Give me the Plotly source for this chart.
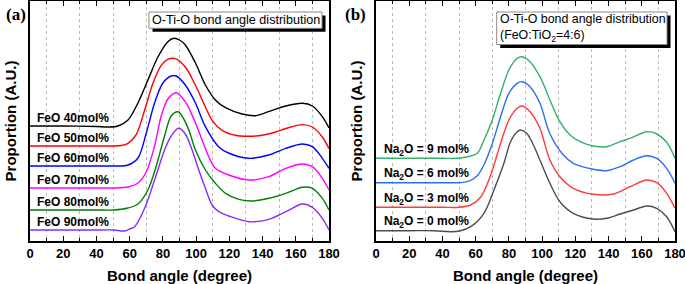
import plotly.graph_objects as go
from plotly.subplots import make_subplots

# ---------------- data (arbitrary units) ----------------
# Panel (a): O-Ti-O bond angle distribution for FeO contents
feo40_ang = [0, 20, 40, 47, 53, 59, 65, 71, 77, 83, 86.5, 90, 93.5, 99.6, 105.6, 111.6, 117.7, 127.7, 135.8, 143.6, 154, 164, 170, 176, 180]
feo40_val = [0, 0, -0.5, -1, 0, 6, 23, 46, 69, 84.3, 87.7, 86, 81, 63, 41, 26, 18.3, 12, 10.3, 14.3, 20, 22.7, 20, 9.3, -2]

feo50_ang = [0, 20, 40, 50, 55, 59, 64, 69, 74, 79, 83, 87.5, 93.5, 99.6, 105.6, 109.6, 115.7, 123.7, 131.5, 139.8, 147.8, 154, 164, 170, 176, 180]
feo50_val = [0, 0, 0, 0, 0.5, 2.7, 11.7, 35.7, 62.7, 80.7, 86.7, 87.4, 79, 60.7, 39, 25.7, 15.7, 10.7, 9.7, 10.7, 14, 17.5, 21.4, 19, 9, -2.6]

feo60_ang = [0, 20, 40, 50, 59, 65, 70, 75, 80, 85, 88, 93.5, 99.6, 105.6, 113.5, 119.5, 131.5, 143.6, 154, 164, 170, 176, 180]
feo60_val = [0, 0, 0, 0, 1, 8, 33, 63, 83, 90, 90, 81, 63, 39.3, 19.3, 13, 7.7, 11, 17.7, 22, 19.3, 7.7, -2.3]

feo70_ang = [0, 20, 40, 50, 59, 65, 70, 75, 79, 83, 88, 93.5, 99.6, 103.6, 107.6, 111.6, 119.7, 131.8, 143.8, 154, 164, 170, 176, 180]
feo70_val = [0, 0, 0, 0, 1, 5, 16, 42, 72, 89, 95.3, 86.3, 65, 48, 31.3, 19.7, 13, 8, 11.3, 19.7, 24, 21.3, 9.7, -2]

feo80_ang = [0, 20, 40, 50, 59, 65, 71, 76, 81, 85, 89, 91.5, 95.6, 99.6, 105.6, 111.6, 117.7, 125.7, 133.8, 143.8, 154, 164, 170, 176, 180]
feo80_val = [0, 0, 0, 0, 2, 6, 20, 44, 74, 94, 98.3, 94, 80, 60, 40, 26.7, 16.7, 10.7, 9, 11.7, 16.7, 22.7, 21.7, 11.7, 0]

feo90_ang = [0, 20, 40, 50, 57, 60, 63, 69, 75, 81, 85, 89.5, 93.5, 97.6, 101.6, 105.6, 109.6, 113.6, 119.7, 131.8, 143.8, 154, 164, 170, 176, 180]
feo90_val = [0, 0, 0, 0, -1, 1, 3.3, 21.7, 50, 80, 94, 101.7, 96, 80, 60, 41.7, 25, 18.3, 14, 8.3, 10.7, 18.3, 26, 22.7, 11.7, 0]

left_labels = ["FeO 40mol%", "FeO 50mol%", "FeO 60mol%", "FeO 70mol%", "FeO 80mol%", "FeO 90mol%"]
left_offsets = [115, 95, 75, 53, 31, 11]
left_colors = ["#000000", "#ff0000", "#0000ff", "#ff00ff", "#008000", "#8b2bff"]

# Panel (b): FeO:TiO2 = 4:6 with Na2O additions
na9_ang = [0, 20, 40, 49, 55, 61, 65, 70, 75, 80, 85, 87.7, 92.7, 98.7, 104.7, 110.7, 116.8, 122.9, 130.9, 138.9, 147, 153, 163, 169, 175, 180]
na9_val = [0, 0, 0, 0, 1.6, 5, 18.3, 38.3, 65, 88.3, 100, 101.6, 96.6, 81.6, 58.3, 36.6, 23.3, 16.6, 12.3, 11.6, 16.6, 20, 26.6, 24.3, 16, 0]

na6_ang = [0, 20, 40, 50, 55, 61, 65, 70, 75, 80, 85, 88, 92.7, 98.7, 104.7, 112.8, 118.8, 130.9, 138.9, 147, 155, 163, 169, 175, 180]
na6_val = [0, 0, 0, 0, 1, 7, 18, 39, 66, 89.4, 99.4, 101, 96, 79.4, 49, 27.7, 19.4, 13.4, 12, 16, 22.7, 27, 24.4, 14.4, -0.6]

na3_ang = [0, 20, 40, 50, 57, 63, 69, 73, 75, 80, 85, 88, 92.7, 98.7, 101, 104.7, 110.7, 118.8, 130.9, 143, 153, 163, 169, 175, 180]
na3_val = [0, 0, 0, 0, 2.3, 10, 32, 53, 64, 87.3, 99, 101.3, 95.6, 79, 67, 47.3, 30.6, 19, 13, 13.3, 20.6, 27.3, 24.6, 14, -1]

na0_ang = [0, 20, 35, 45, 51, 57, 65, 71, 77, 81, 85, 87, 90.7, 94.7, 98.7, 104.7, 110.7, 118.8, 130.9, 138.9, 147, 155, 163, 169, 175, 180]
na0_val = [0, 0, 0, -1, 0, 4, 17.4, 40.7, 67.4, 89, 99, 100.7, 97.4, 86, 70.7, 47.4, 29, 17.4, 11.7, 12.4, 16.7, 20.7, 24.7, 22.4, 14, -1]

right_labels = ["Na<sub>2</sub>O = 9 mol%", "Na<sub>2</sub>O = 6 mol%", "Na<sub>2</sub>O = 3 mol%", "Na<sub>2</sub>O = 0 mol%"]
right_offsets = [82.7, 58.3, 33.7, 10.3]
right_colors = ["#33b06a", "#2a6ff0", "#ff3a3a", "#4d4d4d"]

x_ticks = [0, 20, 40, 60, 80, 100, 120, 140, 160, 180]

left_series = [(feo40_ang, feo40_val), (feo50_ang, feo50_val), (feo60_ang, feo60_val),
               (feo70_ang, feo70_val), (feo80_ang, feo80_val), (feo90_ang, feo90_val)]
right_series = [(na9_ang, na9_val), (na6_ang, na6_val), (na3_ang, na3_val), (na0_ang, na0_val)]

# ---------------- layout geometry ----------------
W, H = 685, 284
ML, MR, MT, MB = 30, 10, 1, 43
PW, PH = W - ML - MR, H - MT - MB


def px(xp):
    return (xp - ML) / PW


def py(yp):
    return (H - MB - yp) / PH


FONT = "Liberation Sans"

fig = make_subplots(rows=1, cols=2, horizontal_spacing=0)

for (ang, val), off, col in zip(left_series, left_offsets, left_colors):
    fig.add_trace(go.Scatter(x=ang, y=[v + off for v in val], mode="lines",
                             line=dict(color=col, width=1.4, shape="spline", smoothing=0.9),
                             showlegend=False, hoverinfo="skip"), row=1, col=1)

for (ang, val), off, col in zip(right_series, right_offsets, right_colors):
    fig.add_trace(go.Scatter(x=ang, y=[v + off for v in val], mode="lines",
                             line=dict(color=col, width=1.4, shape="spline", smoothing=0.9),
                             showlegend=False, hoverinfo="skip"), row=1, col=2)

xaxis_style = dict(
    range=[0, 180], tickvals=x_ticks, ticks="inside", ticklen=5, tickwidth=1.2,
    tickcolor="black", showline=True, linecolor="black", linewidth=1.6, mirror="ticks",
    showgrid=False, zeroline=False, ticklabeloverflow="allow",
    tickfont=dict(family=FONT, size=13, color="black", weight="bold"),
    minor=dict(dtick=20, tick0=10, ticks="inside", ticklen=3, tickcolor="black",
               showgrid=True, gridcolor="#bdbdbd", griddash="dot", gridwidth=1),
    title=dict(text="Bond angle (degree)", font=dict(family=FONT, size=15, color="black", weight="bold"),
               standoff=10),
    automargin=False,
)
yaxis_style = dict(
    range=[0, PH], showticklabels=False, ticks="", showgrid=False, zeroline=False,
    showline=True, linecolor="black", linewidth=1.6, mirror=True,
    title=dict(text="Proportion (A.U.)", font=dict(family=FONT, size=15, color="black", weight="bold"),
               standoff=8),
    automargin=False,
)
fig.update_xaxes(**xaxis_style)
fig.update_yaxes(**yaxis_style)
fig.update_layout(
    xaxis=dict(domain=[0, px(329)]),
    xaxis2=dict(domain=[px(376), 1]),
)

# curve labels
for lab, off in zip(left_labels, left_offsets):
    fig.add_annotation(x=3, y=off + 8.5, xref="x", yref="y", text=lab, showarrow=False,
                       xanchor="left", yanchor="middle",
                       font=dict(family=FONT, size=12, color="black", weight="bold"))
for lab, off in zip(right_labels, right_offsets):
    fig.add_annotation(x=3.6, y=off + 8.5, xref="x2", yref="y2", text=lab, showarrow=False,
                       xanchor="left", yanchor="middle",
                       font=dict(family=FONT, size=12, color="black", weight="bold"))

# info boxes with drop shadows
shapes = []
for (x0, y0, x1, y1) in [(149, 12, 322, 28.3), (496.7, 12, 667, 44.5)]:
    shapes.append(dict(type="rect", xref="paper", yref="paper",
                       x0=px(x0 + 3.5), x1=px(x1 + 3.5), y0=py(y1 + 3.5), y1=py(y0 + 3.5),
                       fillcolor="black", line=dict(width=0), layer="above"))
    shapes.append(dict(type="rect", xref="paper", yref="paper",
                       x0=px(x0), x1=px(x1), y0=py(y1), y1=py(y0),
                       fillcolor="white", line=dict(color="#8a8a8a", width=1), layer="above"))
fig.update_layout(shapes=shapes)

fig.add_annotation(x=px(235.5), y=py(20.2), xref="paper", yref="paper",
                   text="O-Ti-O bond angle distribution", showarrow=False,
                   xanchor="center", yanchor="middle",
                   font=dict(family=FONT, size=12.6, color="black"))
fig.add_annotation(x=px(497.8), y=py(28.2), xref="paper", yref="paper",
                   text="O-Ti-O bond angle distribution<br>(FeO:TiO<sub>2</sub>=4:6)", showarrow=False,
                   xanchor="left", yanchor="middle", align="left",
                   font=dict(family=FONT, size=12.4, color="black"))

# panel letters
fig.add_annotation(x=px(15.5), y=py(14), xref="paper", yref="paper", text="(a)", showarrow=False,
                   xanchor="center", yanchor="middle",
                   font=dict(family="Liberation Serif", size=17, color="black", weight="bold"))
fig.add_annotation(x=px(355.5), y=py(14), xref="paper", yref="paper", text="(b)", showarrow=False,
                   xanchor="center", yanchor="middle",
                   font=dict(family="Liberation Serif", size=17, color="black", weight="bold"))

fig.update_layout(
    width=W, height=H, margin=dict(l=ML, r=MR, t=MT, b=MB),
    paper_bgcolor="white", plot_bgcolor="white",
)

fig.write_html("out.html", config={"displayModeBar": False},
               post_script="document.body.style.margin='0px';document.body.style.overflow='hidden';")
